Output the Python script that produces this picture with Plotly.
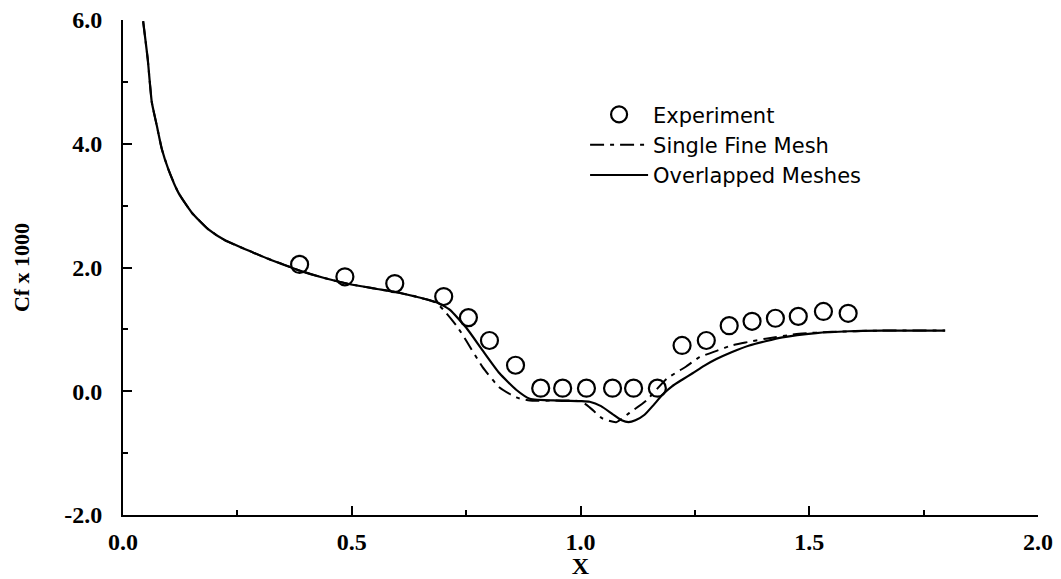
import plotly.graph_objects as go

# Experiment data
exp_x = [0.386, 0.485, 0.594, 0.701, 0.755, 0.801, 0.858, 0.913, 0.961, 1.013,
         1.070, 1.116, 1.168, 1.222, 1.275, 1.325, 1.375, 1.426, 1.476, 1.531, 1.585]
exp_y = [2.05, 1.85, 1.74, 1.53, 1.19, 0.82, 0.42, 0.05, 0.05, 0.05,
         0.05, 0.05, 0.05, 0.74, 0.82, 1.06, 1.13, 1.18, 1.21, 1.29, 1.26]

# Single fine mesh (dash-dot)
fine_x = [0.044, 0.054, 0.063, 0.074, 0.085, 0.099, 0.121, 0.150, 0.186, 0.223, 0.285,
          0.314, 0.35, 0.386, 0.44, 0.496, 0.55, 0.598, 0.64, 0.685, 0.707,
          0.73, 0.75, 0.786, 0.823, 0.86, 0.889, 0.95, 1.0, 1.02, 1.048, 1.078,
          1.107, 1.144, 1.188, 1.231, 1.26, 1.30, 1.33, 1.362, 1.405, 1.478,
          1.55, 1.65, 1.797]
fine_y = [5.98, 5.37, 4.67, 4.29, 3.91, 3.59, 3.21, 2.89, 2.62, 2.44, 2.24,
          2.15, 2.05, 1.95, 1.83, 1.73, 1.66, 1.60, 1.53, 1.43, 1.26,
          1.05, 0.82, 0.39, 0.06, -0.10, -0.15, -0.15, -0.16, -0.26, -0.44, -0.50,
          -0.35, -0.15, 0.20, 0.40, 0.55, 0.66, 0.74, 0.79, 0.85, 0.93,
          0.96, 0.98, 0.98]

# Overlapped meshes (solid)
over_x = [0.044, 0.054, 0.063, 0.074, 0.085, 0.099, 0.121, 0.150, 0.186, 0.223, 0.285,
          0.314, 0.35, 0.386, 0.44, 0.496, 0.55, 0.598, 0.64, 0.685, 0.714,
          0.75, 0.786, 0.823, 0.86, 0.889, 0.95, 1.0, 1.02, 1.045, 1.07, 1.09,
          1.105, 1.12, 1.14, 1.16, 1.18, 1.20, 1.223, 1.245, 1.27, 1.297, 1.33,
          1.369, 1.441, 1.515, 1.587, 1.659, 1.797]
over_y = [5.98, 5.37, 4.67, 4.29, 3.91, 3.59, 3.21, 2.89, 2.62, 2.44, 2.24,
          2.15, 2.05, 1.95, 1.83, 1.73, 1.66, 1.60, 1.53, 1.44, 1.32,
          1.03, 0.66, 0.29, 0.02, -0.12, -0.15, -0.16, -0.17, -0.24, -0.37, -0.47,
          -0.50, -0.47, -0.38, -0.22, -0.05, 0.08, 0.19, 0.29, 0.41, 0.52, 0.63,
          0.74, 0.87, 0.94, 0.97, 0.98, 0.98]

x_ticks = [0.0, 0.5, 1.0, 1.5, 2.0]
x_ticklabels = ["0.0", "0.5", "1.0", "1.5", "2.0"]
y_ticks = [-2.0, 0.0, 2.0, 4.0, 6.0]
y_ticklabels = ["-2.0", "0.0", "2.0", "4.0", "6.0"]

fig = go.Figure()
fig.add_trace(go.Scatter(
    x=exp_x, y=exp_y, mode="markers", name="Experiment",
    marker=dict(symbol="circle-open", size=17, color="black", line=dict(width=2.2, color="black")),
))
fig.add_trace(go.Scatter(
    x=fine_x, y=fine_y, mode="lines", name="Single Fine Mesh",
    line=dict(color="black", width=2, dash="14px,6px,4px,6px", shape="spline", smoothing=0.5),
))
fig.add_trace(go.Scatter(
    x=over_x, y=over_y, mode="lines", name="Overlapped Meshes",
    line=dict(color="black", width=2.2, shape="spline", smoothing=0.5),
))

tickfont = dict(family="Liberation Serif", size=24, color="black", weight="bold")

fig.update_layout(
    width=1061, height=579,
    margin=dict(l=123, r=23, t=20, b=64),
    paper_bgcolor="white", plot_bgcolor="white",
    showlegend=True,
    legend=dict(
        x=0.505, y=0.85, xanchor="left", yanchor="top",
        font=dict(family="DejaVu Sans", size=21, color="black"),
        bgcolor="rgba(0,0,0,0)", itemwidth=58, tracegroupgap=0,
    ),
    xaxis=dict(
        range=[0, 2.0], tickvals=x_ticks, ticktext=x_ticklabels, automargin=False,
        showline=True, linecolor="black", linewidth=2,
        ticks="inside", ticklen=9, tickwidth=2, tickcolor="black",
        minor=dict(dtick=0.25, ticks="inside", ticklen=5, tickwidth=2, tickcolor="black"),
        showgrid=False, zeroline=False, tickfont=tickfont, ticklabelstandoff=4,
        title=dict(text="X", font=dict(family="Liberation Serif", size=24, color="black", weight="bold"), standoff=2),
    ),
    yaxis=dict(
        range=[-2.0, 6.0], tickvals=y_ticks, ticktext=y_ticklabels, automargin=False,
        showline=True, linecolor="black", linewidth=2,
        ticks="inside", ticklen=9, tickwidth=2, tickcolor="black",
        minor=dict(dtick=1.0, ticks="inside", ticklen=5, tickwidth=2, tickcolor="black"),
        showgrid=False, zeroline=False, tickfont=tickfont, ticklabelstandoff=14,
        title=dict(text="Cf x 1000", font=dict(family="Liberation Serif", size=22, color="black", weight="bold"), standoff=29),
    ),
)

fig.write_html("out.html", config={"displayModeBar": False},
               post_script=["document.body.style.margin='0';"])
